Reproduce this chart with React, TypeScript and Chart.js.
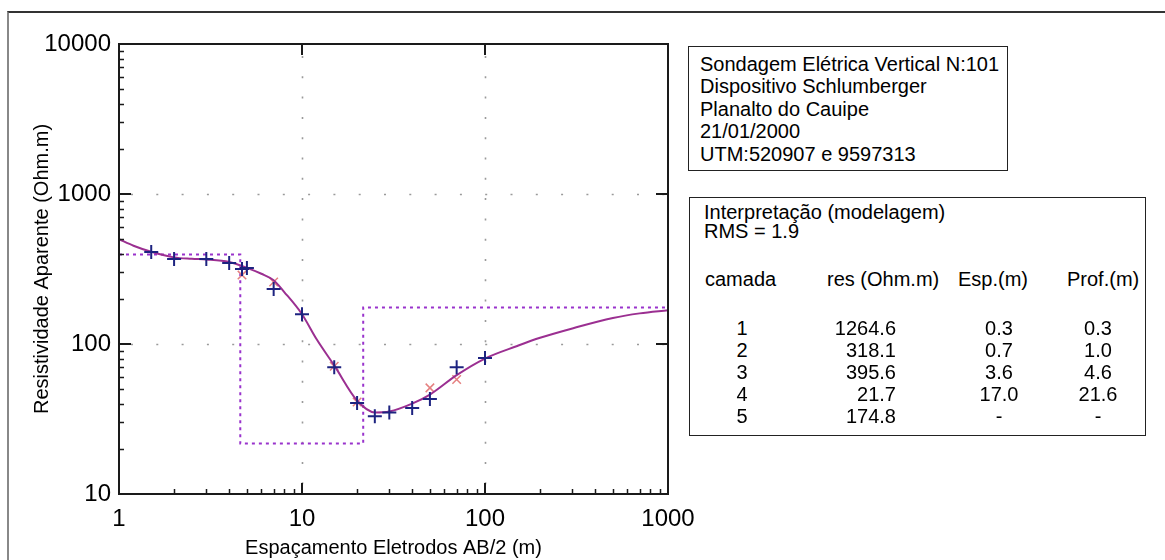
import { useEffect, useRef } from 'react';
import { Chart, registerables } from 'chart.js';

Chart.register(...registerables);

const FONT = '"Liberation Sans", Arial, Helvetica, sans-serif';

// Field data (AB/2 in m, apparent resistivity in Ohm.m)
const spacing = [1.5, 2, 3, 4, 4.7, 5, 7, 10, 15, 20, 25, 30, 40, 50, 70, 100];
const measured = [410, 369, 369, 347, 316, 321, 233, 158, 70, 40.5, 33, 35, 37.4, 43, 70, 80.7];

// Calculated response at some stations
const calcSpacing = [4.7, 7, 15, 20, 50, 70];
const calculated = [288, 259, 71, 41, 51, 58];

// Model curve
const modelX = [1, 1.2, 1.5, 2, 2.5, 3, 4, 5, 6, 7, 8, 10, 12, 15, 20, 25, 30, 40, 50, 70, 100, 150, 200, 300, 500, 700, 1000];
const modelY = [500, 452, 412, 378, 370, 366, 352, 322, 294, 266, 222, 158, 108, 72, 42, 35, 35.5, 40, 46, 62, 80, 97, 110, 127, 149, 160, 168];

// Layer interpretation
const layerRes = [1264.6, 318.1, 395.6, 21.7, 174.8];
const layerThick = [0.3, 0.7, 3.6, 17.0];
const layerDepth = [0.3, 1.0, 4.6, 21.6];

const X_MIN = 1;
const X_MAX = 1000;
const Y_MIN = 10;
const Y_MAX = 10000;

const infoLines = [
  'Sondagem Elétrica Vertical N:101',
  'Dispositivo Schlumberger',
  'Planalto do Cauipe',
  '21/01/2000',
  'UTM:520907 e 9597313',
];

const isDecade = (v: number) => Math.abs(Math.log10(v) - Math.round(Math.log10(v))) < 1e-9;

function buildSteps() {
  const pts: { x: number; y: number }[] = [];
  for (let i = 0; i < layerRes.length; i++) {
    const start = i === 0 ? X_MIN : Math.max(layerDepth[i - 1], X_MIN);
    const end = i < layerDepth.length ? Math.min(layerDepth[i], X_MAX) : X_MAX;
    if (end <= X_MIN) continue;
    pts.push({ x: start, y: layerRes[i] }, { x: end, y: layerRes[i] });
  }
  return pts;
}

function minorValues(min: number, max: number) {
  const out: number[] = [];
  for (let d = min; d < max; d *= 10) {
    for (let k = 2; k <= 9; k++) out.push(k * d);
  }
  return out;
}
function decadeValues(min: number, max: number) {
  const out: number[] = [];
  for (let d = min * 10; d < max * 0.999; d *= 10) out.push(d);
  return out;
}

const framePlugin = {
  id: 'sevFrame',
  beforeDatasetsDraw(chart: any) {
    const { ctx, chartArea: a, scales } = chart;
    const xs = scales.x;
    const ys = scales.y;
    ctx.save();
    ctx.strokeStyle = '#9a9a9a';
    ctx.lineWidth = 1.6;
    ctx.setLineDash([2, 23.3]);
    for (const v of decadeValues(ys.min, ys.max)) {
      const y = Math.round(ys.getPixelForValue(v)) + 0.5;
      ctx.beginPath();
      ctx.moveTo(a.left + 12, y);
      ctx.lineTo(a.right, y);
      ctx.stroke();
    }
    ctx.setLineDash([2, 18.3]);
    for (const v of decadeValues(xs.min, xs.max)) {
      const x = Math.round(xs.getPixelForValue(v)) + 0.5;
      ctx.beginPath();
      ctx.moveTo(x, a.top + 12);
      ctx.lineTo(x, a.bottom);
      ctx.stroke();
    }
    ctx.restore();
  },
  afterDatasetsDraw(chart: any) {
    const { ctx, chartArea: a, scales } = chart;
    const xs = scales.x;
    const ys = scales.y;
    ctx.save();
    ctx.setLineDash([]);
    ctx.strokeStyle = '#1a1a1a';
    ctx.lineWidth = 1.5;
    ctx.beginPath();
    // bottom axis minor + major
    for (const v of minorValues(xs.min, xs.max)) {
      const x = Math.round(xs.getPixelForValue(v)) + 0.5;
      ctx.moveTo(x, a.bottom);
      ctx.lineTo(x, a.bottom - 5);
    }
    for (const v of minorValues(ys.min, ys.max)) {
      const y = Math.round(ys.getPixelForValue(v)) + 0.5;
      ctx.moveTo(a.left, y);
      ctx.lineTo(a.left + 5, y);
    }
    ctx.stroke();
    ctx.lineWidth = 2;
    ctx.beginPath();
    for (const v of decadeValues(xs.min, xs.max)) {
      const x = Math.round(xs.getPixelForValue(v));
      ctx.moveTo(x, a.bottom);
      ctx.lineTo(x, a.bottom - 11);
      ctx.moveTo(x, a.top);
      ctx.lineTo(x, a.top + 11);
    }
    for (const v of decadeValues(ys.min, ys.max)) {
      const y = Math.round(ys.getPixelForValue(v));
      ctx.moveTo(a.left, y);
      ctx.lineTo(a.left + 12, y);
      ctx.moveTo(a.right, y);
      ctx.lineTo(a.right - 12, y);
    }
    ctx.stroke();
    ctx.lineWidth = 2;
    ctx.strokeRect(a.left, a.top, a.right - a.left, a.bottom - a.top);
    ctx.restore();
  },
};

export default function App() {
  const ref = useRef<HTMLCanvasElement | null>(null);

  useEffect(() => {
    if (!ref.current) return;
    const chart = new Chart(ref.current, {
      type: 'scatter',
      data: {
        datasets: [
          {
            label: 'Medido',
            data: spacing.map((x, i) => ({ x, y: measured[i] })),
            showLine: false,
            pointStyle: 'cross',
            pointRadius: 7,
            pointBorderWidth: 2,
            borderColor: '#1d2380',
            backgroundColor: '#1d2380',
          },
          {
            label: 'Modelo',
            data: modelX.map((x, i) => ({ x, y: modelY[i] })),
            showLine: true,
            cubicInterpolationMode: 'monotone',
            borderColor: '#9b2f91',
            borderWidth: 2,
            pointRadius: 0,
          },
          {
            label: 'Calculado',
            data: calcSpacing.map((x, i) => ({ x, y: calculated[i] })),
            showLine: false,
            pointStyle: 'crossRot',
            pointRadius: 6,
            pointBorderWidth: 1.5,
            borderColor: '#e58080',
            backgroundColor: '#e58080',
          },
          {
            label: 'Camadas',
            data: buildSteps(),
            showLine: true,
            tension: 0,
            borderColor: '#9933cc',
            borderWidth: 2,
            borderDash: [3, 4],
            pointRadius: 0,
          },
        ],
      },
      options: {
        animation: false,
        responsive: false,
        devicePixelRatio: 1,
        layout: { padding: { left: 0, top: 44, right: 497, bottom: 0 } },
        plugins: { legend: { display: false }, tooltip: { enabled: false } },
        scales: {
          x: {
            type: 'logarithmic',
            position: 'bottom',
            min: X_MIN,
            max: X_MAX,
            grid: { display: false, drawTicks: false },
            border: { display: false },
            ticks: {
              autoSkip: false,
              maxRotation: 0,
              minRotation: 0,
              padding: 11,
              color: '#000',
              font: { family: FONT, size: 24 },
              callback: (v: any) => (isDecade(Number(v)) ? String(Number(v)) : ''),
            },
            title: {
              display: true,
              text: 'Espaçamento Eletrodos AB/2 (m)',
              color: '#000',
              font: { family: FONT, size: 20 },
              padding: { top: 0, bottom: 0 },
            },
            afterFit: (s: any) => {
              s.height = 66;
            },
          },
          y: {
            type: 'logarithmic',
            position: 'left',
            min: Y_MIN,
            max: Y_MAX,
            grid: { display: false, drawTicks: false },
            border: { display: false },
            ticks: {
              autoSkip: false,
              padding: 8,
              color: '#000',
              font: { family: FONT, size: 24 },
              callback: (v: any) => (isDecade(Number(v)) ? String(Number(v)) : ''),
            },
            title: {
              display: true,
              text: 'Resistividade Aparente (Ohm.m)',
              color: '#000',
              font: { family: FONT, size: 20 },
              padding: { top: 30, bottom: 0 },
            },
            afterFit: (s: any) => {
              s.width = 119;
            },
          },
        },
      } as any,
      plugins: [framePlugin],
    });
    return () => chart.destroy();
  }, []);

  const text: any = {
    position: 'absolute',
    fontFamily: FONT,
    fontSize: 20,
    lineHeight: '20px',
    color: '#000',
    whiteSpace: 'pre',
  };

  const rowTops = layerRes.map((_, i) => 318.4 + 21.8 * i);

  return (
    <div style={{ position: 'fixed', left: 0, top: 0, width: 1165, height: 560, background: '#fff', overflow: 'hidden' }}>
      <div
        style={{
          position: 'absolute',
          left: 7,
          top: 11,
          width: 1200,
          height: 600,
          borderTop: '2px solid #333',
          borderLeft: '2px solid #888',
        }}
      />
      <canvas ref={ref} width={1165} height={560} style={{ position: 'absolute', left: 0, top: 0, width: 1165, height: 560 }} />
      <div
        style={{
          position: 'absolute',
          left: 688,
          top: 46,
          width: 320,
          height: 125,
          boxSizing: 'border-box',
          border: '1px solid #222',
          background: '#fff',
        }}
      />
      <div style={{ ...text, left: 700, top: 52.8, lineHeight: '22.5px' }}>
        {infoLines.map((l) => (
          <div key={l}>{l}</div>
        ))}
      </div>
      <div
        style={{
          position: 'absolute',
          left: 689,
          top: 197,
          width: 457,
          height: 239,
          boxSizing: 'border-box',
          border: '1px solid #222',
          background: '#fff',
        }}
      />
      <div style={{ ...text, left: 704, top: 202.4 }}>Interpretação (modelagem)</div>
      <div style={{ ...text, left: 704, top: 220.7 }}>RMS = 1.9</div>
      <div style={{ ...text, left: 705, top: 269.1 }}>camada</div>
      <div style={{ ...text, left: 827, top: 269.1 }}>res (Ohm.m)</div>
      <div style={{ ...text, left: 958, top: 269.1 }}>Esp.(m)</div>
      <div style={{ ...text, left: 1067, top: 269.1 }}>Prof.(m)</div>
      {layerRes.map((r, i) => (
        <div key={i}>
          <div style={{ ...text, left: 692, width: 100, textAlign: 'center', top: rowTops[i] }}>{String(i + 1)}</div>
          <div style={{ ...text, left: 796, width: 100, textAlign: 'right', top: rowTops[i] }}>{r.toFixed(1)}</div>
          <div style={{ ...text, left: 949, width: 100, textAlign: 'center', top: rowTops[i] }}>
            {i < layerThick.length ? layerThick[i].toFixed(1) : '-'}
          </div>
          <div style={{ ...text, left: 1048, width: 100, textAlign: 'center', top: rowTops[i] }}>
            {i < layerDepth.length ? layerDepth[i].toFixed(1) : '-'}
          </div>
        </div>
      ))}
    </div>
  );
}
